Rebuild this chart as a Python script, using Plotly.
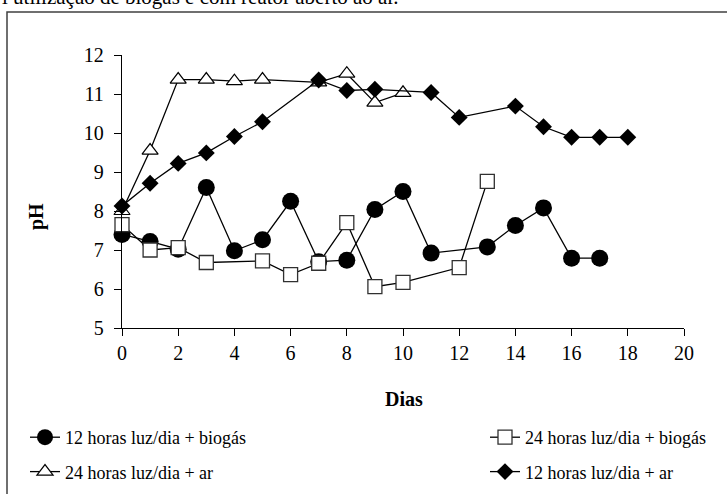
import plotly.graph_objects as go

# pH readings per day for each treatment
dias_12_biogas = [0, 1, 2, 3, 4, 5, 6, 7, 8, 9, 10, 11, 13, 14, 15, 16, 17]
ph_12_biogas = [7.40, 7.22, 7.02, 8.60, 6.98, 7.26, 8.25, 6.70, 6.74, 8.04, 8.50, 6.92, 7.08, 7.63, 8.08, 6.79, 6.79]

dias_24_biogas = [0, 1, 2, 3, 5, 6, 7, 8, 9, 10, 12, 13]
ph_24_biogas = [7.65, 7.00, 7.06, 6.68, 6.72, 6.37, 6.66, 7.70, 6.06, 6.17, 6.55, 8.76]

dias_24_ar = [0, 1, 2, 3, 4, 5, 7, 8, 9, 10]
ph_24_ar = [8.00, 9.55, 11.37, 11.37, 11.33, 11.37, 11.30, 11.52, 10.78, 11.03]

dias_12_ar = [0, 1, 2, 3, 4, 5, 7, 8, 9, 11, 12, 14, 15, 16, 17, 18]
ph_12_ar = [8.13, 8.71, 9.22, 9.49, 9.91, 10.29, 11.36, 11.09, 11.12, 11.04, 10.40, 10.69, 10.16, 9.89, 9.89, 9.89]

nomes = [
    "12 horas luz/dia + biogás",
    "24 horas luz/dia + biogás",
    "24 horas luz/dia + ar",
    "12 horas luz/dia + ar",
]

x_ticks = [0, 2, 4, 6, 8, 10, 12, 14, 16, 18, 20]
y_ticks = [5, 6, 7, 8, 9, 10, 11, 12]

W, H = 727, 494
ML, MR, MT, MB = 122, 43, 55, 166
PW, PH = W - ML - MR, H - MT - MB
FONT = "Liberation Serif"


def px(xp):
    return (xp - ML) / PW


def py(yp):
    return (H - MB - yp) / PH


fig = go.Figure()
line = dict(color="black", width=1.3)

# left legend column: circles and triangles; right column: squares and diamonds
fig.add_trace(go.Scatter(
    x=dias_12_biogas, y=ph_12_biogas, name=nomes[0], mode="lines+markers",
    line=line, marker=dict(symbol="circle", size=17, color="black"),
    legend="legend", legendgroup="a", cliponaxis=False))
fig.add_trace(go.Scatter(
    x=dias_24_biogas, y=ph_24_biogas, name=nomes[1], mode="lines+markers",
    line=line, marker=dict(symbol="square", size=14, color="white",
                           line=dict(color="#303030", width=1.3)),
    legend="legend2", legendgroup="b", cliponaxis=False))
fig.add_trace(go.Scatter(
    x=dias_24_ar, y=ph_24_ar, name=nomes[2], mode="lines+markers",
    line=line, marker=dict(symbol="triangle-up", size=14, color="white",
                           line=dict(color="black", width=1.2)),
    legend="legend", legendgroup="c", cliponaxis=False))
fig.add_trace(go.Scatter(
    x=dias_12_ar, y=ph_12_ar, name=nomes[3], mode="lines+markers",
    line=line, marker=dict(symbol="diamond", size=13, color="black"),
    legend="legend2", legendgroup="d", cliponaxis=False))

axis_common = dict(
    showgrid=False, zeroline=False, showline=True, linecolor="black",
    linewidth=1.3, ticks="outside", ticklen=7, tickwidth=1.3, tickcolor="black",
    tickfont=dict(family=FONT, size=20, color="black"),
)

fig.update_xaxes(range=[0, 20], tickvals=x_ticks, **axis_common)
fig.update_yaxes(range=[5, 12], tickvals=y_ticks, ticklabelstandoff=6, **axis_common)

annotations = [
    dict(text="l utilização de biogás e com reator aberto ao ar.", xref="paper", yref="paper",
         x=px(0), y=py(-3), xanchor="left", yanchor="middle", showarrow=False,
         font=dict(family=FONT, size=21, color="black")),
    dict(text="<b>Dias</b>", xref="paper", yref="paper", x=px(404), y=py(399),
         xanchor="center", yanchor="middle", showarrow=False,
         font=dict(family=FONT, size=20, color="black")),
    dict(text="<b>pH</b>", xref="paper", yref="paper", x=px(36), y=py(217),
         xanchor="center", yanchor="middle", showarrow=False, textangle=-90,
         font=dict(family=FONT, size=20, color="black")),
]

shapes = [
    dict(type="path", xref="paper", yref="paper",
         path=f"M {px(7)} {py(H + 5)} L {px(7)} {py(12)} L {px(W + 5)} {py(12)}",
         line=dict(color="#404040", width=1.5)),
]

legend_style = dict(
    orientation="v", yanchor="top", xanchor="left", tracegroupgap=8,
    font=dict(family=FONT, size=18, color="black"),
    bgcolor="rgba(0,0,0,0)",
)

fig.update_layout(
    width=W, height=H,
    margin=dict(l=ML, r=MR, t=MT, b=MB, autoexpand=False),
    paper_bgcolor="white", plot_bgcolor="white",
    annotations=annotations, shapes=shapes,
    showlegend=True,
    legend=dict(x=px(25), y=py(419), **legend_style),
    legend2=dict(x=px(485), y=py(419), **legend_style),
)

fig.write_html("out.html")
